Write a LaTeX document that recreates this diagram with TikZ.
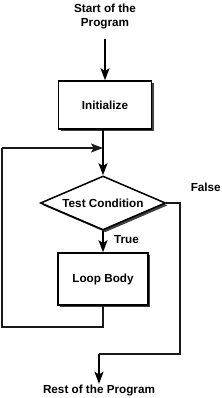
\documentclass[tikz,border=0pt]{standalone}
\usepackage{fontspec}
\setmainfont{Liberation Sans}
\usetikzlibrary{positioning,shapes.geometric,arrows.meta,shadows,calc}
\tikzset{
  flowbox/.style={draw, line width=1.3pt, fill=white, minimum width=2.8cm, minimum height=1.44cm,
    drop shadow={shadow xshift=0.07cm, shadow yshift=-0.07cm, fill=black!75, opacity=1}},
  flowtest/.style={draw, line width=1.3pt, fill=white, diamond, aspect=2.3, inner sep=0pt,
    minimum width=3.75cm, minimum height=1.62cm,
    drop shadow={shadow xshift=0.07cm, shadow yshift=-0.07cm, fill=black!75, opacity=1}},
  flowline/.style={line width=1.3pt, -{Stealth[length=0.36cm, width=0.27cm, inset=0.08cm]}},
  loopline/.style={line width=1.3pt, black!90}
}

\begin{document}
\begin{tikzpicture}[font=\fontsize{10}{11.5}\selectfont\bfseries]
    \useasboundingbox (0,0) rectangle (6.63,-11.94);
    % texts at the ends
    \node[align=center, inner sep=1pt] (start) at (3.15,-0.5) {Start of the\\Program};
    \node[inner sep=1pt] (rest) at (2.97,-11.72) {Rest of the Program};
    % boxes
    \node[flowbox] (init) at (3.15,-3.15) {Initialize};
    \node[flowtest] (test) at (3.09,-6.09) {Test Condition};
    \node[flowbox, minimum width=2.7cm, minimum height=1.56cm] (body) at (3.09,-8.37) {Loop Body};
    \node[anchor=west] (false) at (5.6,-5.62) {False};
    \node[anchor=west] (true) at (3.3,-7.2) {True};
    % joins and corners
    \coordinate (join) at (3.09,-4.44);
    \coordinate (backtop) at (0.06,-4.44);
    \coordinate (backlow) at (0.06,-9.81);
    \coordinate (falseside) at (5.4,-6.09);
    \coordinate (exit) at (2.97,-10.62);
    % arrows
    \draw[flowline] (start.south -| init.north) ++(0,-0.25) -- (init.north);
    \draw[line width=1.3pt] (init.south -| join) -- (join);
    \draw[flowline] (join) -- (test.north);
    \draw[flowline] (test.south) -- (body.north);
    \draw[loopline] (body.south) |- (backlow) -- (backtop);
    \draw[loopline, flowline] (backtop) -- (join);
    \draw[loopline] (test.east) -- (falseside) |- (exit);
    \draw[flowline] (exit) -- (rest.north);
\end{tikzpicture}
\end{document}
